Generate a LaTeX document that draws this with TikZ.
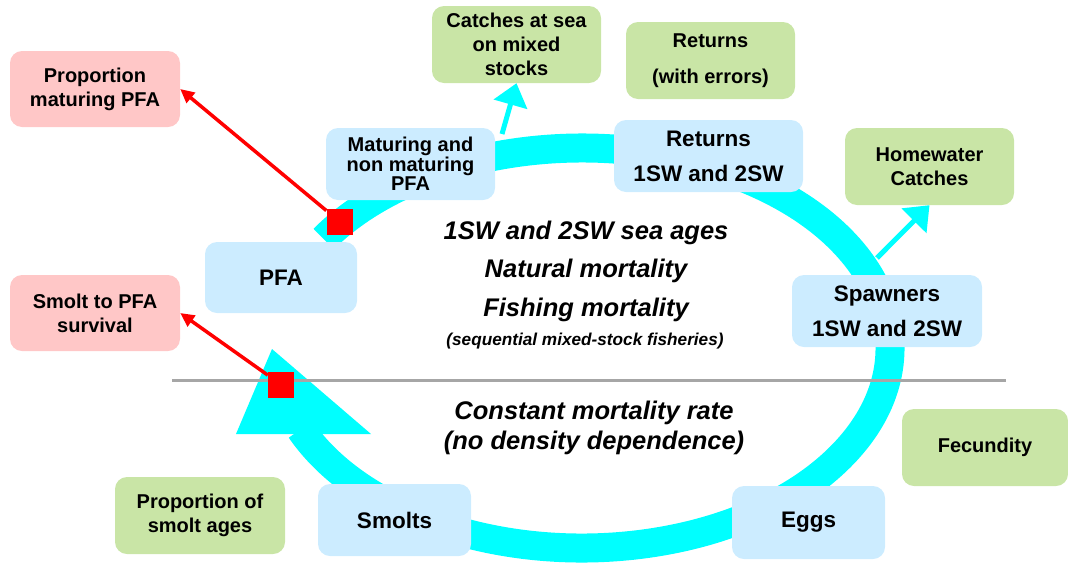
\documentclass[tikz,border=0pt]{standalone}
\usepackage{fontspec}
\setmainfont{Liberation Sans}
\usetikzlibrary{arrows.meta}
\definecolor{boxblue}{RGB}{204,236,255}
\definecolor{boxgreen}{RGB}{201,229,166}
\definecolor{boxpink}{RGB}{255,199,199}
\definecolor{ringcyan}{RGB}{0,255,255}
\definecolor{linegray}{RGB}{166,166,166}
\tikzset{
  box/.style={rounded corners=12pt, align=center, inner sep=0pt},
  stagebox/.style={box, fill=boxblue, minimum width=153pt, minimum height=72pt,
    font=\bfseries\fontsize{22.5}{35}\selectfont},
  databox/.style={box, fill=boxgreen, minimum width=169pt, minimum height=77pt,
    font=\bfseries\fontsize{20}{24}\selectfont},
  parbox/.style={box, fill=boxpink, minimum width=170pt, minimum height=76pt,
    font=\bfseries\fontsize{20}{24}\selectfont},
  marker/.style={fill=red, minimum size=26pt, inner sep=0pt},
}

\begin{document}
\begin{tikzpicture}[x=1pt,y=-1pt]
  \useasboundingbox (0,0) rectangle (1068,563);
  % life cycle ring
  \draw[ringcyan,line width=29pt] (582,348) ++(-147:308 and 200)
    arc[start angle=-147,end angle=156,x radius=308,y radius=200];
  \fill[ringcyan] (272,349) -- (236,434) -- (371,434) -- cycle;
  % sea / freshwater divide
  \coordinate (divl) at (172,380.5);
  \coordinate (divr) at (1006,380.5);
  \draw[linegray,line width=3pt] (divl) -- (divr);

  \node[font=\bfseries\itshape\fontsize{25.5}{38.5}\selectfont,align=center] (seatxt) at (586,271)
    {1SW and 2SW sea ages\\Natural mortality\\Fishing mortality};
  \node[font=\bfseries\itshape\fontsize{17.2}{20}\selectfont] (fishtxt) at (585,341)
    {(sequential mixed-stock fisheries)};
  \node[font=\bfseries\itshape\fontsize{25.5}{30}\selectfont,align=center] (rivtxt) at (594,427.5)
    {Constant mortality rate\\(no density dependence)};

  \node[parbox] (propmat) at (95,89) {Proportion\\maturing PFA};
  \node[parbox] (survpfa) at (95,313) {Smolt to PFA\\survival};
  \node[databox] (catchsea) at (516.5,44.5) {Catches at sea\\on mixed\\stocks};
  \node[databox] (retobs) at (710.5,60.5) {Returns\\[12pt](with errors)};
  \node[databox] (homecatch) at (929.5,166.5) {Homewater\\Catches};
  \node[databox,minimum width=166pt] (fecund) at (985,447.5) {Fecundity};
  \node[databox,minimum width=170pt] (smoltage) at (200,515.5) {Proportion of\\smolt ages};

  \node[stagebox,minimum width=169pt,font=\bfseries\fontsize{20}{17.5}\selectfont] (matpfa) at (410.5,164)
    {Maturing and\\non maturing\\PFA};
  \node[stagebox,minimum width=189pt] (returns) at (708.5,156) {Returns\\1SW and 2SW};
  \node[stagebox,minimum width=152pt,minimum height=71pt] (pfa) at (281,277.5) {PFA};
  \node[stagebox,minimum width=190pt] (spawn) at (887,311) {Spawners\\1SW and 2SW};
  \node[stagebox,minimum height=73pt] (eggs) at (808.5,522.5) {Eggs};
  \node[stagebox] (smolts) at (394.5,520) {Smolts};

  % catches taken off the ring
  \coordinate (catchfoot) at (502,134);
  \coordinate (homefoot) at (877,258);
  \draw[ringcyan,line width=5pt,-{Triangle[width=34pt,length=22pt]}] (catchfoot) -- (catchsea.south);
  \draw[ringcyan,line width=5pt,-{Triangle[width=34pt,length=22pt]}] (homefoot) -- (homecatch.south);

  % estimated parameters
  \node[marker] (sq1) at (339.5,221.5) {};
  \node[marker] (sq2) at (281,384.5) {};
  \draw[red,line width=3.5pt,-{Triangle[width=13pt,length=14pt]}] (sq1) -- (propmat.east);
  \draw[red,line width=3.5pt,-{Triangle[width=13pt,length=14pt]}] (sq2) -- (survpfa.east);
\end{tikzpicture}
\end{document}
